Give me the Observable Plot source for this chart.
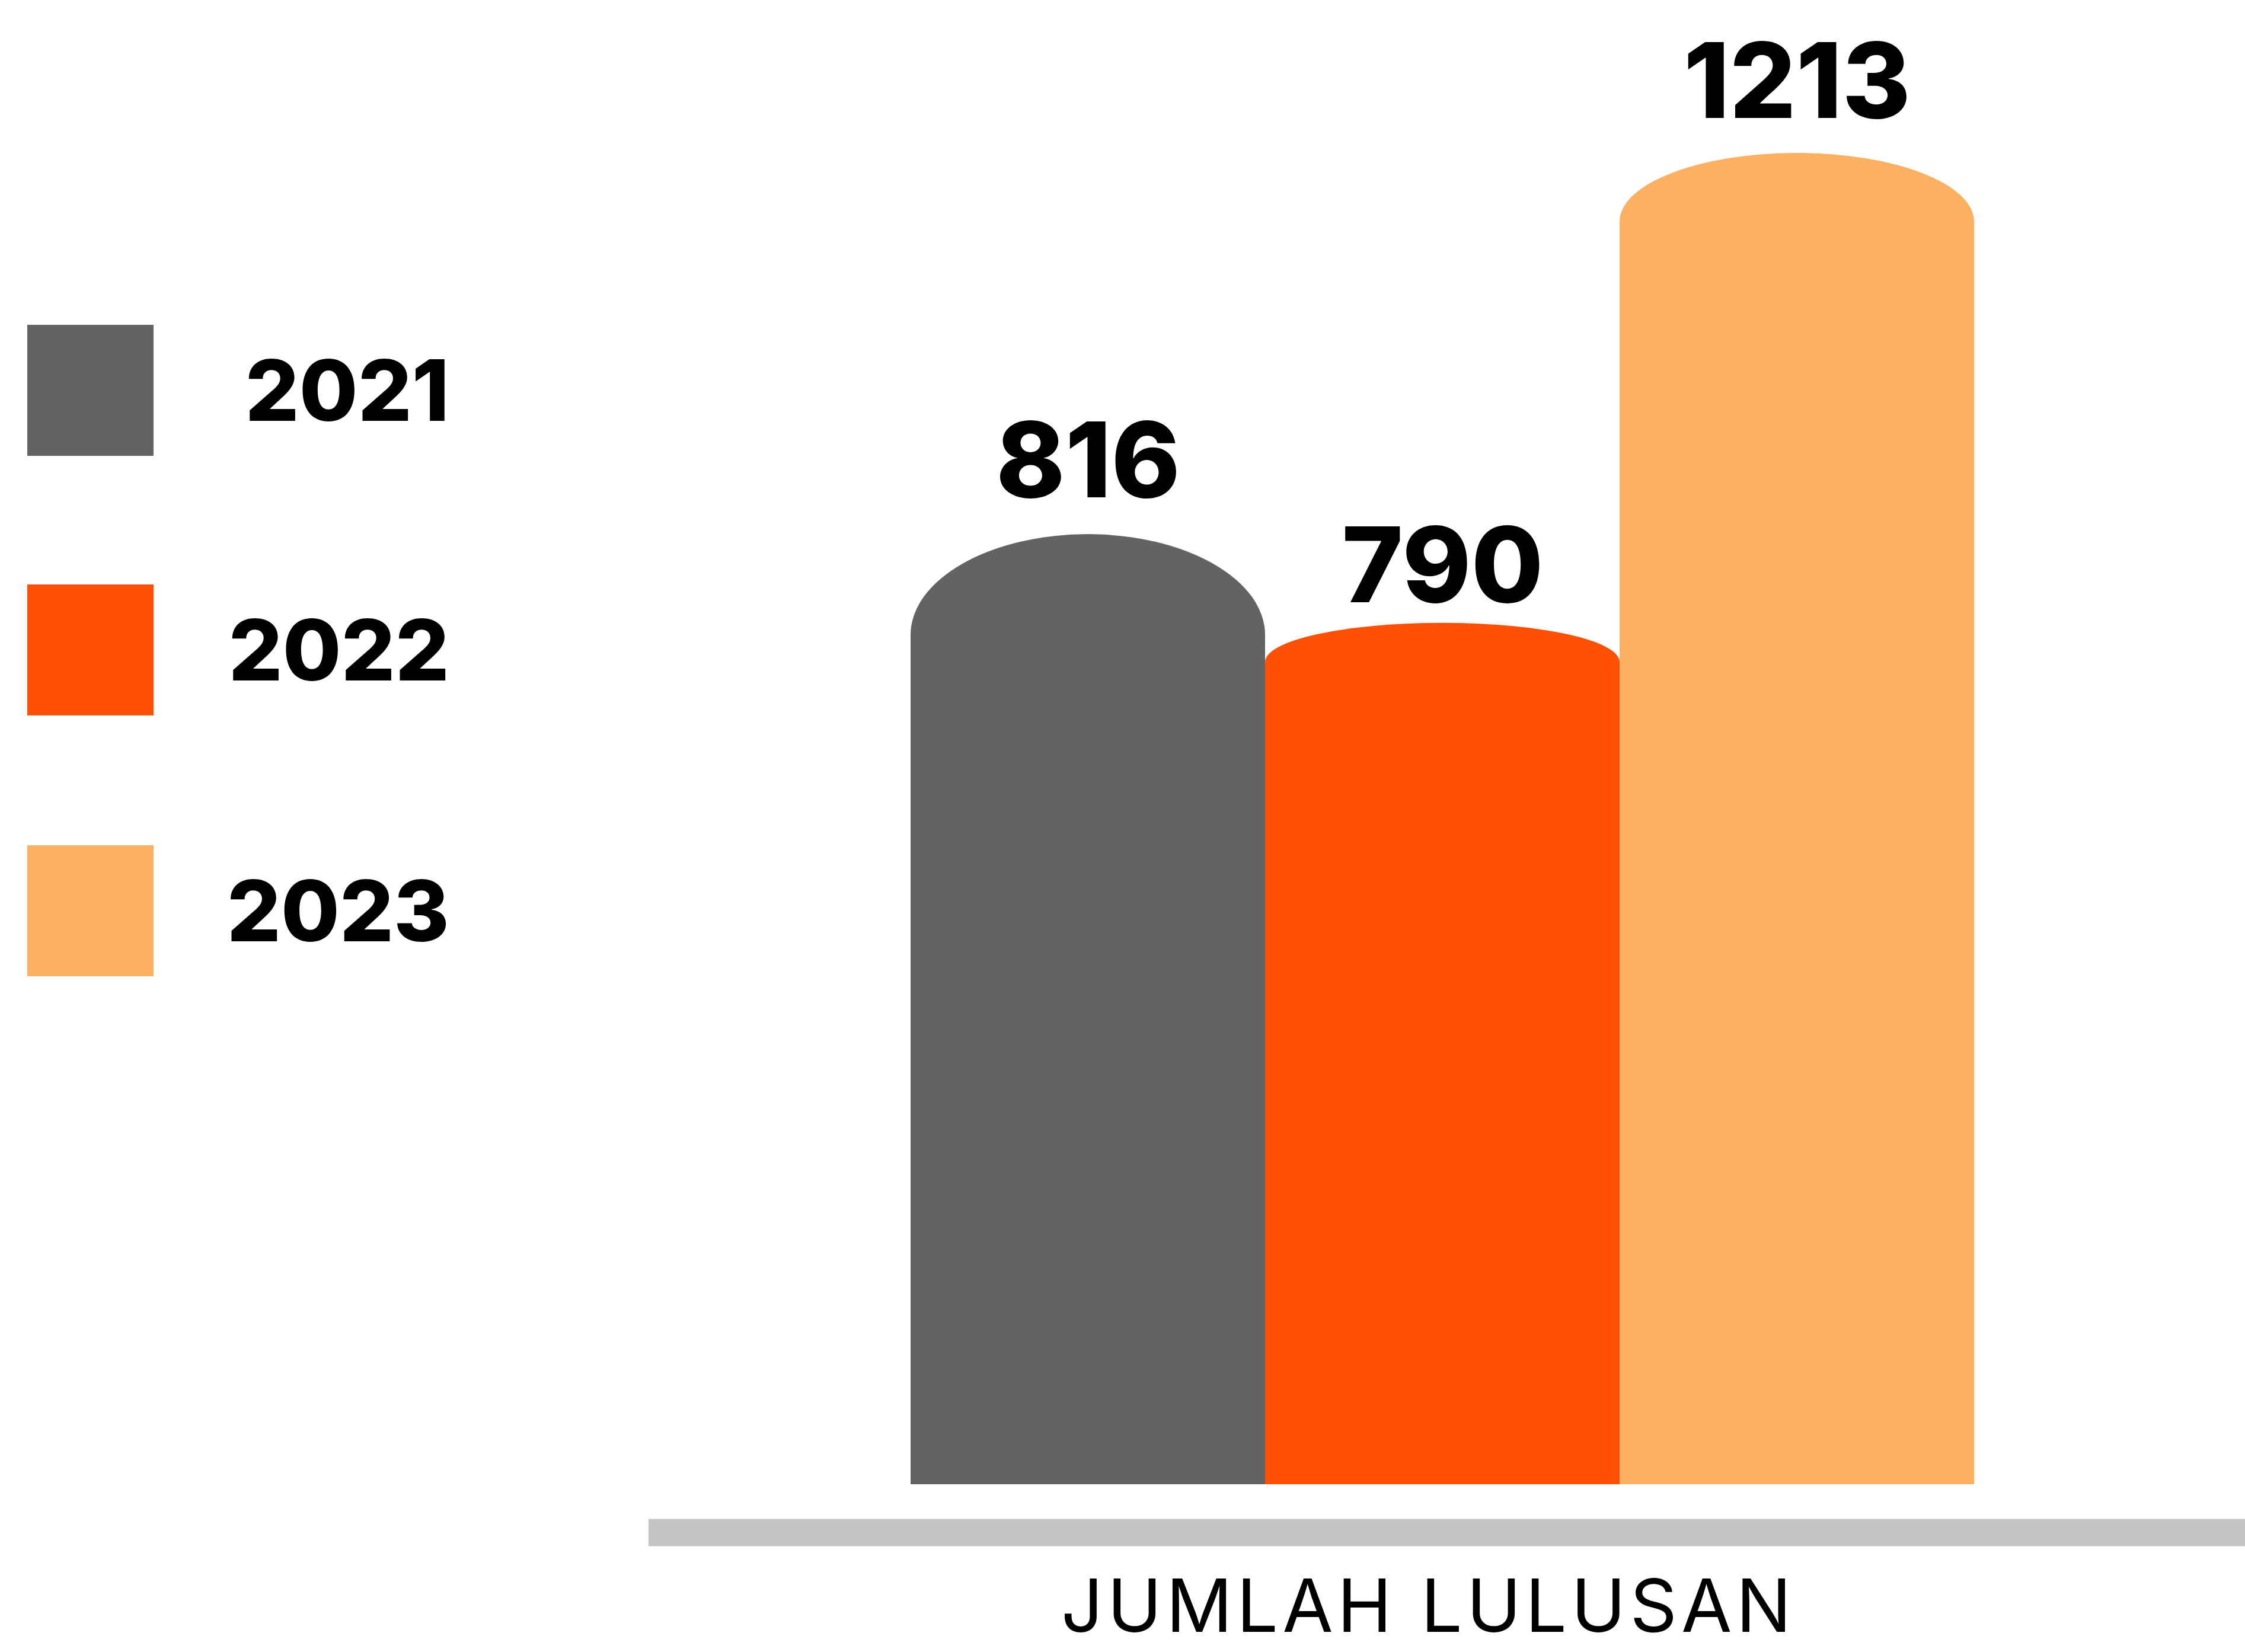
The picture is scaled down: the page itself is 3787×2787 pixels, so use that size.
<!DOCTYPE html>
<html>
<head>
<meta charset="utf-8">
<script src="https://cdn.jsdelivr.net/npm/d3@7"></script>
<script src="https://cdn.jsdelivr.net/npm/@observablehq/plot@0.6"></script>
<style>
  html, body { margin: 0; padding: 0; background: #ffffff; }
  #wrap { position: relative; width: 3787px; height: 2787px; overflow: hidden; font-family: Inter, "Noto Sans", sans-serif; }
  #legend { position: absolute; left: 0; top: 0; }
  .sw { position: absolute; left: 46px; width: 213px; height: 221px; }
  .lb { position: absolute; right: -758px; width: 400px; text-align: right; font-weight: 800; font-size: 143px; color: #000; line-height: 1; }
</style>
</head>
<body>
<div id="wrap"><div id="legend"></div></div>
<script>
// ---- data ----
const years = ["2021", "2022", "2023"];
const values = [816, 790, 1213];
const colors = ["#636363", "#FF5005", "#FBB062"];
const axisTitle = "JUMLAH LULUSAN";

// ---- style constants ----
const capRy = [170, 66, 116];     // depth of the rounded cylinder tops
const labelGap = [63, 35, 60];    // gap between cap and value label baseline
const W = 3787, H = 2787;

const data = years.map((y, i) => ({year: y, value: values[i], color: colors[i], i}));

function caps(index, scales) {
  const g = d3.create("svg:g");
  const bw = scales.x.bandwidth();
  data.forEach(d => {
    g.append("ellipse")
      .attr("cx", scales.x(d.year) + bw / 2)
      .attr("cy", scales.y(d.value))
      .attr("rx", bw / 2)
      .attr("ry", capRy[d.i])
      .attr("fill", d.color);
  });
  return g.node();
}

const chart = Plot.plot({
  width: W,
  height: H,
  marginLeft: 1536,
  marginRight: 457,
  marginTop: 0,
  marginBottom: 283,
  style: {background: "transparent", fontFamily: "Inter, 'Noto Sans', sans-serif", overflow: "visible"},
  x: {type: "band", domain: years, padding: 0, axis: null},
  y: {domain: [0, 1213 * 2504 / 2130], axis: null},
  marks: [
    Plot.barY(data, {x: "year", y: "value", fill: "color"}),
    caps,
    ...data.map(d => Plot.text([d], {
      x: "year", y: "value", text: d => String(d.value),
      dy: -(capRy[d.i] + labelGap[d.i]),
      lineAnchor: "bottom",
      fontSize: 176, fontWeight: 800, fill: "#000"
    })),
    Plot.ruleY([0], {stroke: "#C4C4C4", strokeWidth: 46, dy: 81, insetLeft: -442, insetRight: -457}),
    Plot.text([axisTitle], {
      frameAnchor: "bottom", text: d => d, dx: -24, dy: 248, lineAnchor: "bottom",
      fontSize: 124, fontWeight: 400, fill: "#000"
    })
  ]
});
d3.select(chart).selectAll("text").filter(function () { return this.textContent === axisTitle; })
  .style("letter-spacing", "7px");
document.getElementById("wrap").prepend(chart);

// ---- legend ----
const legend = document.getElementById("legend");
const swTops = [548, 986, 1426];
data.forEach((d, k) => {
  const sw = document.createElement("div");
  sw.className = "sw";
  sw.style.top = swTops[k] + "px";
  sw.style.background = d.color;
  legend.appendChild(sw);
  const lb = document.createElement("div");
  lb.className = "lb";
  lb.style.top = (swTops[k] + 110 - 72) + "px";
  lb.textContent = d.year;
  legend.appendChild(lb);
});
</script>
</body>
</html>
